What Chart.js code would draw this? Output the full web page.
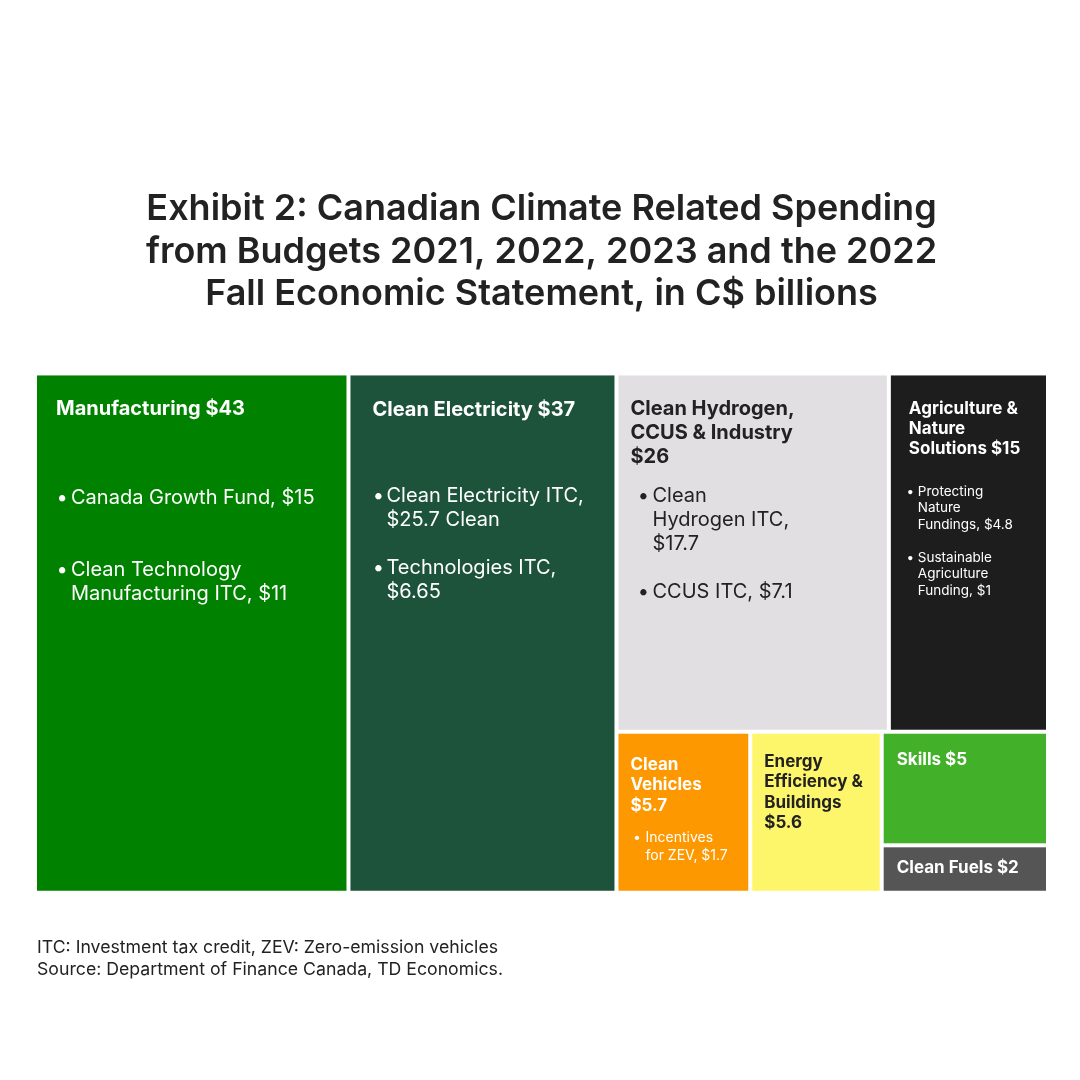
<!DOCTYPE html>
<html>
<head>
<meta charset="utf-8">
<script src="https://cdn.jsdelivr.net/npm/chart.js@4.4.1/dist/chart.umd.min.js"></script>
<style>
  html, body { margin: 0; padding: 0; background: #ffffff; }
  #wrap { width: 1080px; height: 1080px; }
</style>
</head>
<body>
<div id="wrap"><canvas id="treemap"></canvas></div>
<script>
// data (C$ billions)
const categories = ['Manufacturing', 'Clean Electricity', 'Clean Hydrogen, CCUS & Industry',
    'Agriculture & Nature Solutions', 'Clean Vehicles', 'Energy Efficiency & Buildings', 'Skills', 'Clean Fuels'];
const values = [43, 37, 26, 15, 5.7, 5.6, 5, 2];

const headings = [
    ['Manufacturing $43'],
    ['Clean Electricity $37'],
    ['Clean Hydrogen,', 'CCUS & Industry', '$26'],
    ['Agriculture &', 'Nature', 'Solutions $15'],
    ['Clean', 'Vehicles', '$5.7'],
    ['Energy', 'Efficiency &', 'Buildings', '$5.6'],
    ['Skills $5'],
    ['Clean Fuels $2']
];
const bullets = [
    [['Canada Growth Fund, $15'], ['Clean Technology', 'Manufacturing ITC, $11']],
    [['Clean Electricity ITC,', '$25.7 Clean'], ['Technologies ITC,', '$6.65']],
    [['Clean', 'Hydrogen ITC,', '$17.7'], ['CCUS ITC, $7.1']],
    [['Protecting', 'Nature', 'Fundings, $4.8'], ['Sustainable', 'Agriculture', 'Funding, $1']],
    [['Incentives', 'for ZEV, $1.7']],
    [], [], []
];

const titleLines = ['Exhibit 2: Canadian Climate Related Spending',
    'from Budgets 2021, 2022, 2023 and the 2022',
    'Fall Economic Statement, in C$ billions'];
const noteLines = ['ITC: Investment tax credit, ZEV: Zero-emission vehicles',
    'Source: Department of Finance Canada, TD Economics.'];

// how the tiles nest: columns, then rows inside the last column, etc.
const layoutTree = ['cols', 0, 1, ['rows', ['cols', 2, 3], ['cols', 4, 5, ['rows', 6, 7]]]];

// styling
const tileColors = ['#008200', '#1d533a', '#e1dfe2', '#1d1d1d', '#fd9800', '#fdf56a', '#43b02a', '#555555'];
const textColors = ['#ffffff', '#ffffff', '#222222', '#ffffff', '#ffffff', '#222222', '#ffffff', '#ffffff'];
// padX, headY, headSize, headLH, bulletY, bulletSize, bulletLH, groupGap, dotX, textX
const textStyle = [
    [19, 34, 20, 24, 123, 20, 24, 72, 23, 34],
    [22, 35, 20, 24, 121, 20, 24, 48, 26, 36],
    [12, 34, 20, 24, 121, 20, 24, 48, 23, 34],
    [18, 33, 17, 20, 116, 13.5, 16.5, 33, 18, 27],
    [12, 31, 17, 20.5, 104, 14, 18, 36, 17, 27],
    [12, 28, 17, 20.5, 0, 14, 18, 36, 0, 0],
    [13, 26, 17, 20, 0, 14, 18, 36, 0, 0],
    [13, 21, 17, 20, 0, 14, 18, 36, 0, 0]
];
const FONT = 'Inter, "Noto Sans", sans-serif';
const GAP = 2;

function nodeSum(node) {
    if (typeof node === 'number') return values[node];
    return node.slice(1).reduce((s, n) => s + nodeSum(n), 0);
}

// slice-and-dice in data units (x 0..1, y 0..1)
function layoutNode(node, x0, x1, y0, y1, out) {
    if (typeof node === 'number') {
        out[node] = {x0: x0, x1: x1, y0: y0, y1: y1};
        return;
    }
    const kids = node.slice(1);
    const total = nodeSum(node);
    let pos = node[0] === 'cols' ? x0 : y0;
    kids.forEach(k => {
        const frac = nodeSum(k) / total;
        if (node[0] === 'cols') {
            const w = (x1 - x0) * frac;
            layoutNode(k, pos, pos + w, y0, y1, out);
            pos += w;
        } else {
            const h = (y1 - y0) * frac;
            layoutNode(k, x0, x1, pos, pos + h, out);
            pos += h;
        }
    });
}

const treemapPlugin = {
    id: 'treemapTiles',
    afterDatasetsDraw(chart) {
        const ctx = chart.ctx;
        const xs = chart.scales.x, ys = chart.scales.y;
        const rects = [];
        layoutNode(layoutTree, 0, 1, 0, 1, rects);
        const eps = 1e-9;
        ctx.save();
        rects.forEach((r, i) => {
            // white gutters only between tiles, not on the outer edge
            const left = xs.getPixelForValue(r.x0) + (r.x0 > eps ? GAP : 0);
            const right = xs.getPixelForValue(r.x1) - (r.x1 < 1 - eps ? GAP : 0);
            const top = ys.getPixelForValue(r.y0) + (r.y0 > eps ? GAP : 0);
            const bottom = ys.getPixelForValue(r.y1) - (r.y1 < 1 - eps ? GAP : 0);
            ctx.fillStyle = tileColors[i];
            ctx.fillRect(left, top, right - left, bottom - top);

            const st = textStyle[i];
            ctx.fillStyle = textColors[i];
            ctx.textBaseline = 'middle';
            ctx.textAlign = 'left';
            ctx.font = 'bold ' + st[2] + 'px ' + FONT;
            headings[i].forEach((line, j) => {
                ctx.fillText(line, left + st[0], top + st[1] + j * st[3]);
            });

            let y = top + st[4];
            ctx.font = st[5] + 'px ' + FONT;
            bullets[i].forEach(group => {
                ctx.fillText('\u2022', left + st[8] - st[5] * 0.18, y);
                group.forEach((line, j) => {
                    ctx.fillText(line, left + st[9], y + j * st[6]);
                });
                y += (group.length - 1) * st[6] + st[7];
            });
        });
        ctx.restore();
    }
};

new Chart(document.getElementById('treemap'), {
    type: 'scatter',
    data: {
        datasets: [{
            label: 'C$ billions',
            data: [],
            pointRadius: 0
        }]
    },
    options: {
        responsive: true,
        maintainAspectRatio: false,
        animation: false,
        layout: {
            padding: {left: 37, right: 34, top: 0, bottom: 0}
        },
        scales: {
            x: {type: 'linear', min: 0, max: 1, display: false},
            y: {type: 'linear', min: 0, max: 1, reverse: true, display: false}
        },
        plugins: {
            legend: {display: false},
            tooltip: {enabled: false},
            title: {
                display: true,
                text: titleLines,
                color: '#222222',
                font: {family: FONT, size: 36, weight: '600', lineHeight: 1.18},
                padding: {top: 188, bottom: 60}
            },
            subtitle: {
                display: true,
                text: noteLines,
                position: 'bottom',
                align: 'start',
                color: '#222222',
                font: {family: FONT, size: 17.7, weight: 'normal', lineHeight: 1.25},
                padding: {top: 46, bottom: 99}
            }
        }
    },
    plugins: [treemapPlugin]
});
</script>
</body>
</html>
